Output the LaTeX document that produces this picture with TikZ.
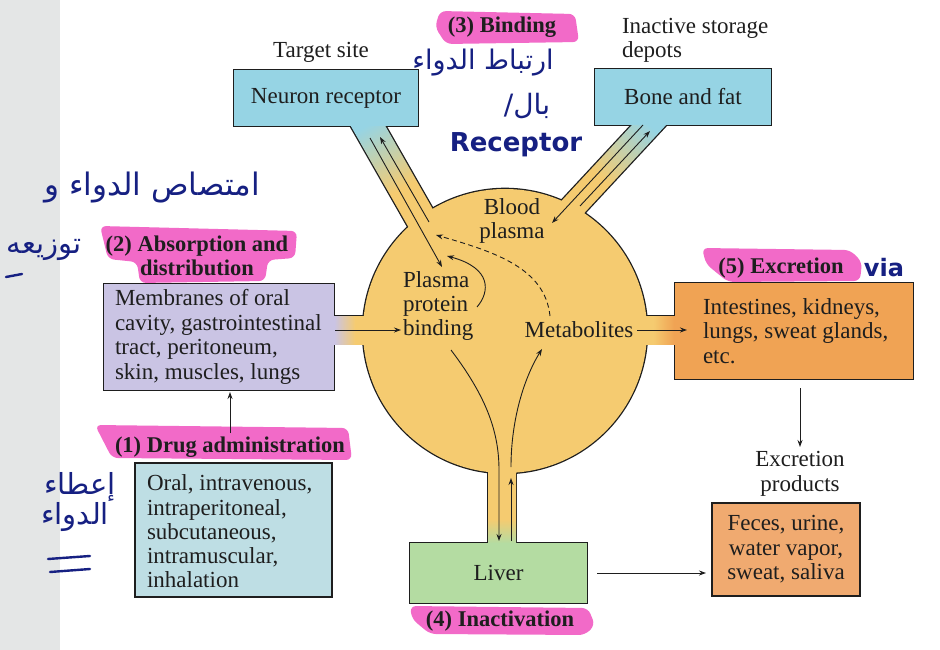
\documentclass[tikz,border=0pt]{standalone}
\usepackage{fontspec}
\setmainfont{Liberation Serif}
\newfontfamily\arabicfont[Script=Arabic]{DejaVu Sans}
\newfontfamily\handfont{DejaVu Sans}
\TeXXeTstate=1
\usetikzlibrary{arrows.meta}
\definecolor{cPlasma}{RGB}{245,203,112}
\definecolor{cBlue}{RGB}{150,212,228}
\definecolor{cLav}{RGB}{202,196,228}
\definecolor{cOrange}{RGB}{240,163,84}
\definecolor{cOral}{RGB}{190,222,228}
\definecolor{cGreen}{RGB}{180,220,162}
\definecolor{cFeces}{RGB}{240,170,112}
\definecolor{cPink}{RGB}{242,106,200}
\definecolor{cHand}{RGB}{22,32,130}
\definecolor{cGray}{RGB}{228,230,230}
\definecolor{cInk}{RGB}{30,30,30}
\pgfdeclarelayer{bg}
\pgfdeclarelayer{mid}
\pgfsetlayers{bg,mid,main}
\pgfdeclarehorizontalshading{shTop}{100bp}{color(0bp)=(cBlue); color(31bp)=(cBlue); color(55bp)=(cPlasma); color(100bp)=(cPlasma)}
\pgfdeclarehorizontalshading{shLeft}{100bp}{color(0bp)=(cLav); color(34bp)=(cLav); color(47bp)=(cPlasma); color(100bp)=(cPlasma)}
\pgfdeclarehorizontalshading{shRight}{100bp}{color(0bp)=(cPlasma); color(52bp)=(cPlasma); color(65bp)=(cOrange); color(100bp)=(cOrange)}
\pgfdeclareverticalshading{shBottom}{100bp}{color(0bp)=(cGreen); color(32bp)=(cGreen); color(42bp)=(cPlasma); color(100bp)=(cPlasma)}
\newcommand\bodyfont{\fontsize{23}{24.5}\selectfont}
\newcommand\labfont{\fontsize{22.5}{24}\selectfont\bfseries}
\newcommand\arfont{\arabicfont\fontsize{28}{30}\selectfont}
\begin{document}
\begin{tikzpicture}[x=1pt,y=-1pt,
  txt/.style={inner sep=0pt, outer sep=0pt, text=cInk, font=\bodyfont},
  lab/.style={inner sep=0pt, outer sep=0pt, text=cInk, font=\labfont},
  boxn/.style={rectangle, inner sep=0pt, outer sep=0pt, text=cInk, font=\bodyfont, align=center},
  solobox/.style={draw=cInk, line width=1.3pt},
  joint/.style={draw=cInk, line width=2.6pt},
  arr/.style={-{Stealth[length=7pt,width=5pt]}, line width=0.9pt, draw=cInk},
  hand/.style={inner sep=0pt, text=cHand},
  pinkhl/.style={fill=cPink, rounded corners=6pt}]
\useasboundingbox (0,0) rectangle (940,650);

% ---------- main shapes ----------
\node[circle, fill=cPlasma, minimum size=284pt, inner sep=0pt] (plasma) at (505,331) {};
\node[boxn, fill=cBlue, minimum width=184pt, minimum height=56pt] (neuron) at (326,98) {Neuron receptor};
\node[boxn, fill=cBlue, minimum width=176pt, minimum height=56pt] (bone) at (683,97) {Bone and fat};
\node[boxn, fill=cLav, minimum width=230pt, minimum height=106pt] (membr) at (219,337) {};
\node[boxn, fill=cOrange, minimum width=238pt, minimum height=96pt] (intest) at (794,331) {};
\node[boxn, fill=cGreen, minimum width=177pt, minimum height=60pt] (liver) at (498.5,573) {Liver};
\node[boxn, solobox, fill=cOral, minimum width=197pt, minimum height=134pt] (oral) at (233.5,530) {};
\node[boxn, solobox, fill=cFeces, minimum width=148pt, minimum height=93pt] (feces) at (786,549.5) {Feces, urine,\\water vapor,\\sweat, saliva};

% ---------- background, highlights, joint outline ----------
\begin{pgfonlayer}{bg}
\fill[white] (0,0) rectangle (940,650);
\fill[cGray] (0,0) rectangle (60,650);
\fill[pinkhl] (440,11) -- (575,14) -- (579,42) -- (446,44) -- (435,27) -- cycle;
\fill[pinkhl] (100,226) -- (297,231) -- (295,258) -- (268,260) -- (265,281) -- (140,283) -- (137,262) -- (108,259) -- cycle;
\fill[pinkhl] (95,425) -- (348,428) -- (352,460) -- (112,458) -- cycle;
\fill[pinkhl] (702,248) -- (850,250) -- (862,262) -- (860,281) -- (728,282) -- (706,264) -- cycle;
\fill[pinkhl] (410,606) -- (588,608) -- (595,625) -- (585,635) -- (430,634) -- (412,619) -- cycle;
\draw[joint] (neuron.south west) rectangle (neuron.north east);
\draw[joint] (bone.south west) rectangle (bone.north east);
\draw[joint] (membr.south west) rectangle (membr.north east);
\draw[joint] (intest.south west) rectangle (intest.north east);
\draw[joint] (liver.south west) rectangle (liver.north east);
\draw[joint] (plasma.center) circle[radius=142];
\draw[joint] (320,316) rectangle (400,344);
\draw[joint] (610,316) rectangle (690,344);
\draw[joint] (488,440) rectangle (516,560);
\begin{scope}[transform canvas={shift={(358.6,109.4)}, rotate=-60.3}]
\draw[joint] (0,-15) rectangle (150,15);
\end{scope}
\begin{scope}[transform canvas={shift={(661.3,111.8)}, rotate=-132.9}]
\draw[joint] (0,-12.5) rectangle (150,12.5);
\end{scope}
\end{pgfonlayer}

% ---------- channel fills ----------
\begin{pgfonlayer}{mid}
\shade[shading=shLeft] (320,316) rectangle (400,344);
\shade[shading=shRight] (610,316) rectangle (690,344);
\shade[shading=shBottom] (488,440) rectangle (516,560);
\begin{scope}[transform canvas={shift={(358.6,109.4)}, rotate=-60.3}]
\shade[shading=shTop] (0,-15) rectangle (150,15);
\end{scope}
\begin{scope}[transform canvas={shift={(661.3,111.8)}, rotate=-132.9}]
\shade[shading=shTop] (0,-12.5) rectangle (150,12.5);
\end{scope}
\end{pgfonlayer}

% ---------- texts ----------
\node[txt] (target) at (321,52) {Target site};
\node[lab] (binding) at (502,27) {(3) Binding};
\node[txt, anchor=west, align=left] (depots) at (622,40.5) {Inactive storage\\depots};
\node[txt, align=center] (bloodtxt) at (512,221) {Blood\\plasma};
\node[txt, anchor=west, align=left, font=\fontsize{23}{24}\selectfont] (ppb) at (403,306) {Plasma\\protein\\binding};
\node[txt] (metab) at (579,330) {Metabolites};
\node[lab, align=center] (absorb) at (197,256) {(2) Absorption and\\distribution};
\node[txt, anchor=west, align=left] (membrtxt) at (115,337) {Membranes of oral\\cavity, gastrointestinal\\tract, peritoneum,\\skin, muscles, lungs};
\node[lab] (drugadm) at (230,447) {(1) Drug administration};
\node[txt, anchor=west, align=left, font=\fontsize{23}{24.3}\selectfont] (oraltxt) at (147,531.5) {Oral, intravenous,\\intraperitoneal,\\subcutaneous,\\intramuscular,\\inhalation};
\node[lab] (excr) at (781,268) {(5) Excretion};
\node[txt, anchor=west, align=left] (intesttxt) at (703,331) {Intestines, kidneys,\\lungs, sweat glands,\\etc.};
\node[txt, align=center] (exprod) at (800,474) {Excretion\\products};
\node[lab] (inact) at (500,621) {(4) Inactivation};

% ---------- handwritten notes ----------
\node[hand, font=\arfont\fontsize{27}{29}\selectfont] (h1) at (483,63) {\beginR ارتباط الدواء\endR};
\node[hand, font=\arfont\fontsize{28}{30}\selectfont] (h2) at (527,106) {\beginR بال/\endR};
\node[hand, font=\handfont\bfseries\fontsize{26}{28}\selectfont] (h3) at (516,145) {Receptor};
\node[hand, font=\arfont\fontsize{31}{33}\selectfont] (h4) at (152,188) {\beginR امتصاص الدواء و\endR};
\node[hand, font=\arfont\fontsize{29}{31}\selectfont] (h5) at (44,250) {\beginR توزيعه\endR};
\node[hand, font=\arfont\fontsize{29}{31}\selectfont] (h6) at (80,487) {\beginR إعطاء\endR};
\node[hand, font=\arfont\fontsize{29}{31}\selectfont] (h7) at (75,517) {\beginR الدواء\endR};
\node[hand, font=\handfont\bfseries\fontsize{24}{26}\selectfont] (h8) at (884,268) {via};
\coordinate (u1a) at (6,277); \coordinate (u1b) at (22,274);
\coordinate (u2a) at (48,559); \coordinate (u2b) at (90,556);
\coordinate (u3a) at (50,572); \coordinate (u3b) at (90,569);
\draw[cHand, line width=2.4pt, line cap=round] (u1a) -- (u1b);
\draw[cHand, line width=2.4pt, line cap=round] (u2a) -- (u2b);
\draw[cHand, line width=2.4pt, line cap=round] (u3a) -- (u3b);

% ---------- connectors ----------
\coordinate (nd1) at (370,138); \coordinate (nd2) at (442,267);
\coordinate (nu1) at (429,222); \coordinate (nu2) at (380,137);
\coordinate (bd1) at (643,125); \coordinate (bd2) at (552,223);
\coordinate (bu1) at (580,206); \coordinate (bu2) at (650,131);
\coordinate (ms) at (335,330); \coordinate (me) at (401,330);
\coordinate (rs) at (637,330); \coordinate (re) at (687,330);
\coordinate (mtop) at (550,316); \coordinate (dashend) at (436,235);
\coordinate (prot) at (477,307); \coordinate (protend) at (447,256);
\coordinate (bind) at (451,350); \coordinate (ldown) at (499,470); \coordinate (ldend) at (499,541);
\coordinate (lup1) at (511,541); \coordinate (lup2) at (511,478);
\coordinate (lup3) at (511,467); \coordinate (metbot) at (542,349);
\coordinate (ls) at (597,573); \coordinate (le) at (706,573);
\coordinate (es) at (800,388); \coordinate (ee) at (800,447);
\coordinate (ds) at (230,433); \coordinate (de) at (230,392);

\draw[arr] (nd1) -- (nd2);
\draw[arr] (nu1) -- (nu2);
\draw[arr] (bd1) -- (bd2);
\draw[arr] (bu1) -- (bu2);
\draw[arr] (ms) -- (me);
\draw[arr] (rs) -- (re);
\draw[arr, dash pattern=on 5pt off 3.5pt] (mtop) .. controls (545,268) and (495,252) .. (dashend);
\draw[arr] (prot) .. controls (490,292) and (492,268) .. (protend);
\draw[arr] (bind) .. controls (485,395) and (499,430) .. (ldown) -- (ldend);
\draw[arr] (lup1) -- (lup2);
\draw[arr] (lup3) .. controls (511,420) and (524,378) .. (metbot);
\draw[arr] (ls) -- (le);
\draw[arr] (es) -- (ee);
\draw[arr] (ds) -- (de);
\end{tikzpicture}
\end{document}
